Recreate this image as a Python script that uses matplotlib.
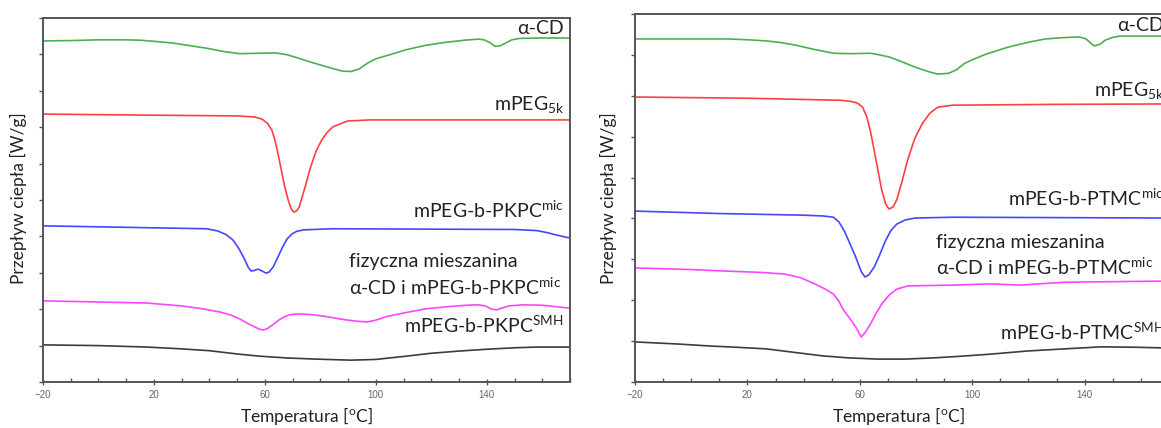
import numpy as np
import matplotlib
matplotlib.use("Agg")
import matplotlib.pyplot as plt
from matplotlib.ticker import MultipleLocator, FixedLocator

plt.rcParams['font.family'] = ['Lato', 'DejaVu Sans']
plt.rcParams['mathtext.fontset'] = 'custom'
plt.rcParams['mathtext.rm'] = 'Lato'
plt.rcParams['mathtext.it'] = 'Lato:italic'
plt.rcParams['mathtext.bf'] = 'Lato:bold'

# --- dane: panel lewy (PKPC), przeplyw ciepla w jednostkach podzialki ---
T_cd_L = [-20, -10, 0, 10, 15, 20, 27, 33, 39, 45, 51, 57, 64, 68, 72, 76, 80, 84, 88, 91, 94, 97, 100,
          105, 111, 118, 125, 132, 137, 139, 141, 143, 145, 147, 149, 152, 160, 169.6]
q_cd_L = [9.37, 9.38, 9.40, 9.40, 9.39, 9.36, 9.31, 9.24, 9.17, 9.08, 9.02, 9.03, 9.04, 8.99, 8.90, 8.80,
          8.71, 8.62, 8.54, 8.53, 8.60, 8.76, 8.88, 8.99, 9.13, 9.25, 9.33, 9.39, 9.42, 9.40, 9.33, 9.22,
          9.24, 9.32, 9.40, 9.44, 9.45, 9.45]

T_peg_L = [-20, 20, 50, 56.4, 59, 61, 62.5, 63.5, 64.5, 65.7, 67, 68.4, 69.5, 70.4, 71.5, 72.4, 74.5,
           76.5, 78.5, 80.5, 82.5, 84.5, 89.8, 97.9, 169.6]
q_peg_L = [7.36, 7.33, 7.31, 7.28, 7.22, 7.10, 6.92, 6.68, 6.35, 5.91, 5.41, 5.00, 4.75, 4.67, 4.70, 4.81,
           5.36, 5.91, 6.35, 6.65, 6.86, 7.01, 7.17, 7.20, 7.20]

T_mic_L = [-20, 38.9, 43, 46, 48.5, 50.5, 52.5, 54, 55, 56, 57.5, 59, 60.4, 61.5, 63, 64.5, 66.4, 68,
           69.8, 71.5, 74, 84.5, 150, 158, 162, 165, 169.6]
q_mic_L = [4.29, 4.21, 4.15, 4.05, 3.90, 3.68, 3.40, 3.15, 3.05, 3.06, 3.10, 3.05, 2.99, 3.02, 3.16, 3.40,
           3.71, 3.93, 4.07, 4.14, 4.18, 4.21, 4.19, 4.16, 4.10, 4.04, 3.96]

T_mix_L = [-20, 17.5, 30, 37.6, 44, 48, 51, 54, 56.4, 58, 59.5, 61, 63, 65, 67, 69, 72, 77, 82, 88, 93,
           97, 100, 104, 111, 118, 126, 133, 137, 139.4, 141.5, 143.4, 145.5, 148, 153, 160, 169.6]
q_mix_L = [2.23, 2.17, 2.09, 2.01, 1.92, 1.83, 1.73, 1.60, 1.51, 1.45, 1.43, 1.47, 1.58, 1.70, 1.79, 1.85,
           1.87, 1.85, 1.80, 1.72, 1.67, 1.65, 1.70, 1.80, 1.91, 2.01, 2.07, 2.11, 2.12, 2.09, 2.01, 1.98,
           2.03, 2.09, 2.12, 2.11, 2.03]

T_smh_L = [-20, 0, 17.5, 30, 40, 50, 58, 68, 78, 91, 100, 111, 120, 130, 140, 150, 158, 169.6]
q_smh_L = [1.02, 1.00, 0.96, 0.91, 0.86, 0.77, 0.71, 0.66, 0.63, 0.60, 0.62, 0.71, 0.79, 0.85, 0.90,
           0.94, 0.96, 0.96]

# --- dane: panel prawy (PTMC) ---
T_cd_R = [-20, 0, 13, 20, 27, 32, 37, 44, 50.6, 57, 63.8, 67, 70.4, 75, 79.7, 84, 87.7, 91.6, 94.5, 97,
          99.6, 105, 112.8, 120, 126, 132, 138, 140.5, 143.3, 145.5, 147.3, 150, 152.6, 170]
q_cd_R = [8.39, 8.39, 8.39, 8.37, 8.34, 8.30, 8.24, 8.13, 8.04, 8.03, 8.04, 8.00, 7.95, 7.83, 7.70, 7.60,
          7.53, 7.55, 7.64, 7.78, 7.87, 8.02, 8.19, 8.31, 8.39, 8.42, 8.44, 8.39, 8.22, 8.26, 8.36, 8.43,
          8.46, 8.46]

T_peg_R = [-20, 20, 40, 53.2, 57, 59.2, 61, 62.5, 63.8, 65.1, 66.5, 67.8, 69.2, 70.4, 71.8, 73.1, 75,
           77, 79.5, 82.3, 85, 87.7, 93, 130, 170]
q_peg_R = [6.97, 6.94, 6.91, 6.89, 6.86, 6.82, 6.72, 6.48, 6.12, 5.67, 5.15, 4.69, 4.35, 4.23, 4.28, 4.45,
           4.90, 5.43, 5.95, 6.33, 6.58, 6.72, 6.77, 6.79, 6.80]

T_mic_R = [-20, 10, 40, 47, 50.6, 52.5, 54.5, 56.5, 58.5, 60.5, 61.8, 63.2, 65.1, 67, 69.1, 71, 73.1, 76,
           79.7, 93, 170]
q_mic_R = [4.18, 4.12, 4.08, 4.06, 4.03, 3.92, 3.69, 3.38, 3.06, 2.70, 2.57, 2.62, 2.81, 3.10, 3.45, 3.70,
           3.86, 3.96, 4.01, 4.03, 4.01]

T_mix_R = [-20, 0, 13.4, 25, 33.3, 39, 43.9, 47.5, 50.6, 52.5, 54, 55.9, 57, 58.5, 60.5, 62, 63.8, 65.8,
           67.8, 70.5, 73.1, 77, 93, 106.3, 116.9, 132.8, 170]
q_mix_R = [2.79, 2.75, 2.71, 2.68, 2.64, 2.55, 2.40, 2.28, 2.15, 1.98, 1.78, 1.60, 1.50, 1.35, 1.10, 1.22,
           1.42, 1.68, 1.91, 2.13, 2.27, 2.35, 2.37, 2.40, 2.37, 2.44, 2.47]

T_smh_R = [-20, -5, 6.8, 16, 26.7, 36, 46.6, 56, 66.5, 76, 86.3, 96, 106.2, 120, 132.8, 146, 158, 170]
q_smh_R = [0.98, 0.93, 0.88, 0.85, 0.81, 0.73, 0.64, 0.59, 0.56, 0.56, 0.59, 0.63, 0.68, 0.76, 0.81,
           0.86, 0.85, 0.83]

kolory = ['#4caf50', '#ff4040', '#4646ff', '#ff45ff', '#3c3c3c']

fig = plt.figure(figsize=(11.61, 4.28), dpi=100)
axL = fig.add_axes([43 / 1161, 46 / 428, 527 / 1161, 364 / 428])
axR = fig.add_axes([635 / 1161, 46 / 428, 534 / 1161, 368 / 428])


def uloz_os(ax, ymax):
    ax.set_xlim(-20, 170)
    ax.set_ylim(0, ymax)
    ax.xaxis.set_major_locator(FixedLocator([-20, 20, 60, 100, 140]))
    ax.xaxis.set_minor_locator(MultipleLocator(10))
    ax.yaxis.set_major_locator(MultipleLocator(1))
    ax.set_yticklabels([])
    for s in ax.spines.values():
        s.set_color('#555555')
        s.set_linewidth(1.4)
    ax.tick_params(axis='x', which='major', direction='inout', length=5, width=1,
                   colors='#555555', labelsize=7, pad=3)
    ax.tick_params(axis='x', which='minor', direction='in', length=3, width=1, colors='#555555')
    ax.tick_params(axis='y', which='major', direction='out', length=3, width=1, colors='#555555')
    for lab in ax.get_xticklabels():
        lab.set_family('Liberation Sans')
        lab.set_color('#666666')


uloz_os(axL, 10)
uloz_os(axR, 9)

for ax, serie in [(axL, [(T_cd_L, q_cd_L), (T_peg_L, q_peg_L), (T_mic_L, q_mic_L),
                         (T_mix_L, q_mix_L), (T_smh_L, q_smh_L)]),
                  (axR, [(T_cd_R, q_cd_R), (T_peg_R, q_peg_R), (T_mic_R, q_mic_R),
                         (T_mix_R, q_mix_R), (T_smh_R, q_smh_R)])]:
    for (T, q), c in zip(serie, kolory):
        ax.plot(T, q, color=c, lw=1.2, solid_joinstyle='round')

fs = 14
kw = dict(fontsize=fs, color='#222222', clip_on=False)

# podpisy - panel lewy
axL.text(167.8, 9.71, 'α-CD', ha='right', va='center', **kw)
axL.text(167.8, 7.61, 'mPEG$_{\\mathrm{5k}}$', ha='right', va='center', **kw)
axL.text(167.8, 4.73, 'mPEG-b-PKPC$^{\\mathrm{mic}}$', ha='right', va='center', **kw)
axL.text(90.5, 3.30, 'fizyczna mieszanina', ha='left', va='center', **kw)
axL.text(90.5, 2.61, 'α-CD i mPEG-b-PKPC$^{\\mathrm{mic}}$', ha='left', va='center', **kw)
axL.text(167.8, 1.57, 'mPEG-b-PKPC$^{\\mathrm{SMH}}$', ha='right', va='center', **kw)

# podpisy - panel prawy (ucięte przy prawej krawędzi, jak w oryginale)
axR.text(168.3, 8.73, 'α-CD', ha='right', va='center', **kw)
axR.text(168.3, 7.14, 'mPEG$_{\\mathrm{5k}}$', ha='right', va='center', **kw)
axR.text(168.3, 4.50, 'mPEG-b-PTMC$^{\\mathrm{mic}}$', ha='right', va='center', **kw)
axR.text(87, 3.42, 'fizyczna mieszanina', ha='left', va='center', **kw)
axR.text(87, 2.81, 'α-CD i mPEG-b-PTMC$^{\\mathrm{mic}}$', ha='left', va='center', **kw)
axR.text(168.3, 1.22, 'mPEG-b-PTMC$^{\\mathrm{SMH}}$', ha='right', va='center', **kw)

# opisy osi
for xc, yl in [(306, 18), (898, 608)]:
    fig.text(xc / 1161, 1 - 416 / 428, 'Temperatura [$^{\\mathrm{o}}$C]',
             ha='center', va='center', fontsize=12.5, color='#222222')
    fig.text(yl / 1161, 1 - 198 / 428, 'Przepływ ciepła [W/g]', rotation=90,
             ha='center', va='center', fontsize=12.5, color='#222222')

fig.savefig('out.png', dpi=100)
